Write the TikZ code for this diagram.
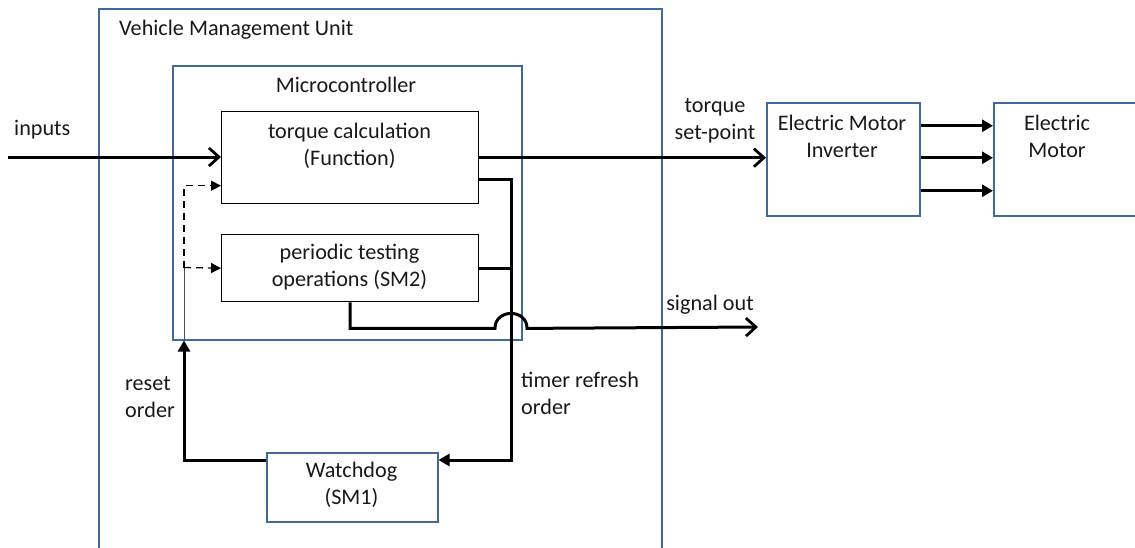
\documentclass[tikz,border=0pt]{standalone}
\usepackage{fontspec}
\setmainfont{Carlito}
\usetikzlibrary{arrows.meta,calc}
\definecolor{boxblue}{RGB}{65,105,155}
\begin{document}
\begin{tikzpicture}[x=1pt,y=-1pt,
  font=\fontsize{22.2}{27}\selectfont,
  bluebox/.style={draw=boxblue,line width=1.5pt,inner sep=0pt,anchor=north west},
  blackbox/.style={draw=black,line width=1.4pt,inner sep=0pt,anchor=north west},
  lbl/.style={inner sep=0pt,align=center,text=black!90},
  flow/.style={line width=3pt,-{Straight Barb[length=10pt,width=18pt,line width=2.8pt]}},
  fillflow/.style={line width=3pt,-{Triangle[length=11pt,width=12pt]}},
  plain/.style={line width=3pt},
  dashflow/.style={line width=1.3pt,dash pattern=on 7pt off 5pt,-{Triangle[length=10pt,width=10pt]}},
  thinline/.style={line width=1pt,black!70}
]
\useasboundingbox (0,0) rectangle (1135,547);
\clip (0,0) rectangle (1135,547);

% boxes
\node[bluebox,minimum width=563pt,minimum height=570pt] (vmu) at (98,8) {};
\node[bluebox,minimum width=349pt,minimum height=274pt] (mc) at (172,65) {};
\node[blackbox,minimum width=257pt,minimum height=92pt] (tc) at (221,111) {};
\node[blackbox,minimum width=257pt,minimum height=67pt] (pb) at (221,234) {};
\node[bluebox,minimum width=171pt,minimum height=69pt] (wd) at (266,452) {};
\node[bluebox,minimum width=153pt,minimum height=113pt] (inv) at (766,102) {};
\node[bluebox,minimum width=170pt,minimum height=113pt] (mot) at (993,102) {};

% texts
\node[lbl,anchor=west] (vmuT) at (119,30) {Vehicle Management Unit};
\node[lbl] (mcT) at (346,85) {Microcontroller};
\node[lbl] (tcT) at (349.5,146) {torque calculation\\(Function)};
\node[lbl] (pbT) at (349.5,267) {periodic testing\\operations (SM2)};
\node[lbl] (wdT) at (351.5,485) {Watchdog\\(SM1)};
\node[lbl] (invT) at (842,136) {Electric Motor\\Inverter};
\node[lbl] (motT) at (1057,136) {Electric\\Motor};
\node[lbl,anchor=west] (inT) at (14,130) {inputs};
\node[lbl] (tspT) at (715,121) {torque\\set-point};
\node[lbl] (sigT) at (710,305) {signal out};
\node[lbl,anchor=west,align=left] (rsT) at (125,397) {reset\\order};
\node[lbl,anchor=west,align=left] (tmT) at (521,393) {timer refresh\\order};

% inputs and torque set-point
\coordinate (inS) at (8,157);
\draw[flow] (inS) -- (inS -| tc.west);
\draw[flow] (tc.east) -- (tc.east -| inv.west);

% inverter to motor
\path (inv.east) ++(0,-33.5) coordinate (i1);
\path (inv.east) ++(0,-1.5) coordinate (i2);
\path (inv.east) ++(0,31.5) coordinate (i3);
\draw[fillflow] (i1) -- (i1 -| mot.west);
\draw[fillflow] (i2) -- (i2 -| mot.west);
\draw[fillflow] (i3) -- (i3 -| mot.west);

% timer refresh
\coordinate (tj) at (511,179);
\coordinate (tcR) at ($(tc.east)+(0,22)$);
\coordinate (wdR) at ($(wd.north east)+(0,8)$);
\draw[fillflow] (tcR) -| (wdR -| tj) -- (wdR);
\draw[plain] (pb.east) -- (pb.east -| tj);

% signal out with hump
\coordinate (sg1) at ($(pb.south)+(0,26)$);
\coordinate (hj) at (sg1 -| tj);
\coordinate (sigE) at (758,327);
\draw[flow] (pb.south) -- (sg1) -- ($(hj)+(-16,0)$) .. controls +(0,-20) and +(0,-20) .. ($(hj)+(16,0)$) -- (sigE);

% reset order
\coordinate (wdL) at ($(wd.north west)+(0,8)$);
\coordinate (rcol) at (184,267.5);
\draw[fillflow] (wdL) -| (rcol |- mc.south);
\draw[thinline] (rcol |- mc.south) -- (rcol);
\draw[dashflow] (rcol) -- (pb.west);
\coordinate (tcL) at ($(tc.west)+(0,28)$);
\draw[dashflow] (rcol) |- (tcL);
\end{tikzpicture}
\end{document}
